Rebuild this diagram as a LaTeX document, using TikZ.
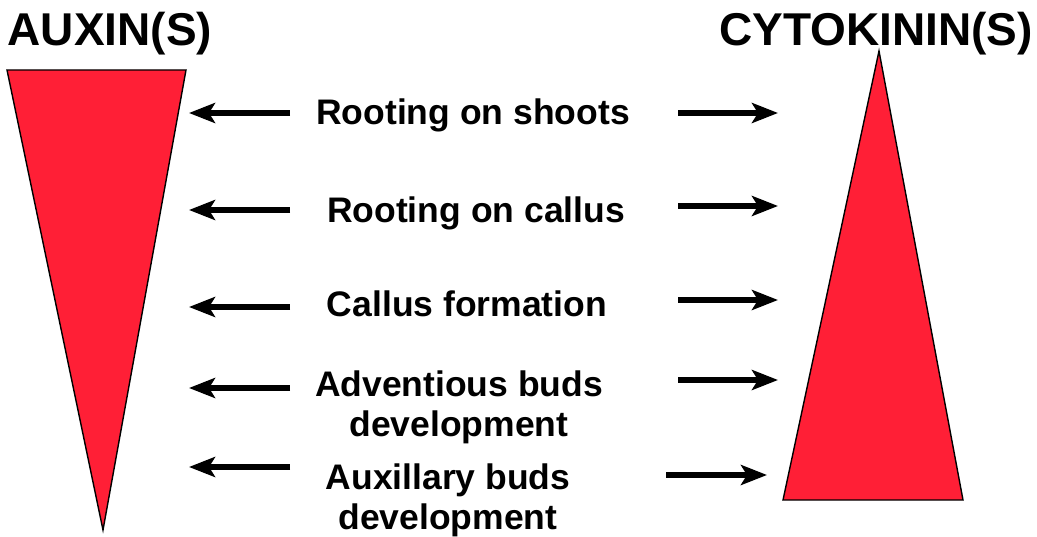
\documentclass[tikz,border=0pt]{standalone}
\usepackage{fontspec}
\setmainfont{Liberation Sans}
\usetikzlibrary{arrows.meta}
\definecolor{hormred}{RGB}{255,31,54}
\tikzset{
  wedge/.style={fill=hormred, draw=black, line width=1.4pt, line join=miter},
  title/.style={font=\bfseries\fontsize{46}{50}\selectfont, anchor=base, inner sep=0pt},
  effect/.style={font=\bfseries\fontsize{35.5}{40}\selectfont, align=center, inner sep=0pt},
  pointer/.style={line width=5.5pt, -{Stealth[length=26pt,width=20pt,inset=6pt]}}
}
\begin{document}
\begin{tikzpicture}[x=1pt,y=-1pt]
\useasboundingbox (0,0) rectangle (1037,537);

% hormone gradients
\draw[wedge] (7,70) -- (186,70) -- (103,530) -- cycle;
\draw[wedge] (879,51) -- (963,500) -- (783,500) -- cycle;

% headings
\node[title] (auxin) at (110,46) {AUXIN(S)};
\node[title] (cyto) at (876,46) {CYTOKININ(S)};

% responses
\node[effect] (r1) at (473,115) {Rooting on shoots};
\node[effect] (r2) at (476,213) {Rooting on callus};
\node[effect] (r3) at (467,304) {Callus formation};
\node[effect] (r4) at (459,407) {Adventious buds\\development};
\node[effect] (r5) at (448,500) {Auxillary buds\\development};

% arrow ends
\coordinate (l1a) at (290,113); \coordinate (l1b) at (189,113);
\coordinate (l2a) at (290,210); \coordinate (l2b) at (189,210);
\coordinate (l3a) at (290,307); \coordinate (l3b) at (189,307);
\coordinate (l4a) at (290,388); \coordinate (l4b) at (189,388);
\coordinate (l5a) at (290,467); \coordinate (l5b) at (189,467);
\coordinate (c1a) at (678,113); \coordinate (c1b) at (778,113);
\coordinate (c2a) at (678,206); \coordinate (c2b) at (778,206);
\coordinate (c3a) at (678,300); \coordinate (c3b) at (778,300);
\coordinate (c4a) at (678,380); \coordinate (c4b) at (778,380);
\coordinate (c5a) at (666,475); \coordinate (c5b) at (767,475);

\foreach \i in {1,...,5} {
  \draw[pointer] (l\i a) -- (l\i b);
  \draw[pointer] (c\i a) -- (c\i b);
}
\end{tikzpicture}
\end{document}
